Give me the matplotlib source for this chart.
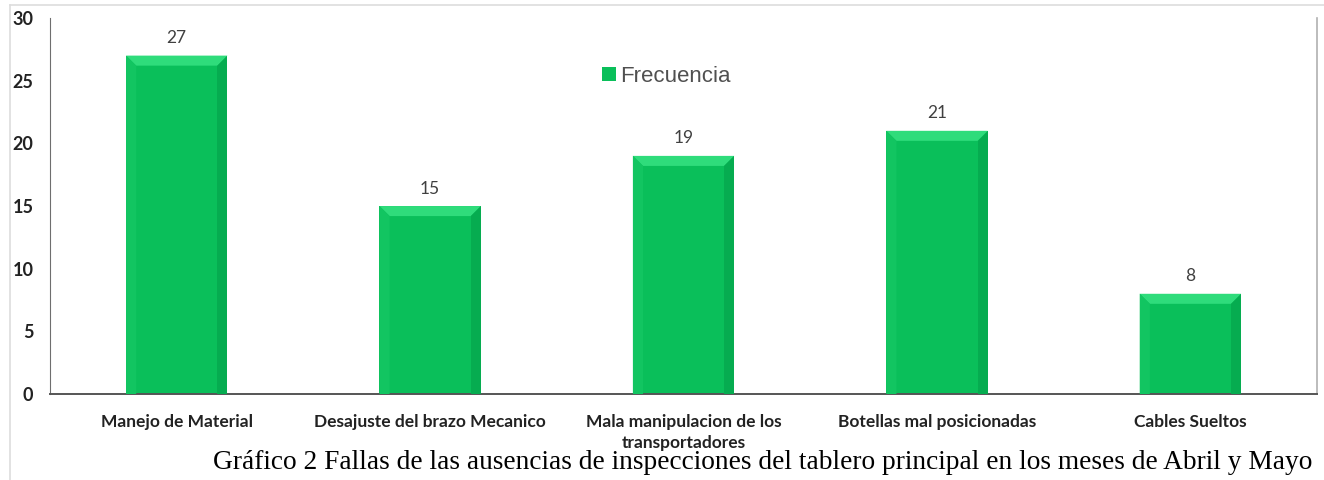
import numpy as np
import matplotlib.pyplot as plt
from matplotlib.patches import Polygon
from matplotlib.lines import Line2D

categorias = ['Manejo de Material', 'Desajuste del brazo Mecanico',
              'Mala manipulacion de los\ntransportadores', 'Botellas mal posicionadas',
              'Cables Sueltos']
frecuencia = [27, 15, 19, 21, 8]
yticks = [0, 5, 10, 15, 20, 25, 30]

verde = '#0abf5a'
fig = plt.figure(figsize=(13.24, 4.8), dpi=100)
ax = fig.add_axes([0.0378, 0.179, 0.957, 0.7835])

x = np.arange(len(categorias))
ancho = 0.4
barras = ax.bar(x, frecuencia, width=ancho, color=verde, zorder=2, label='Frecuencia')

# bevel look: lighter top strip, darker right strip
bx = 0.04
by = 0.8
for xi, v in zip(x, frecuencia):
    l, r = xi - ancho / 2, xi + ancho / 2
    ax.add_patch(Polygon([(l, v), (r, v), (r - bx, v - by), (l + bx, v - by)],
                         closed=True, color='#2fdc7b', lw=0, zorder=3))
    ax.add_patch(Polygon([(r, v), (r, 0), (r - bx, 0), (r - bx, v - by)],
                         closed=True, color='#06ac50', lw=0, zorder=3))
    ax.add_patch(Polygon([(l, v), (l + bx, v - by), (l + bx, 0), (l, 0)],
                         closed=True, color='#12c561', lw=0, zorder=3))
    ax.text(xi, v + 0.75, str(v), ha='center', va='bottom', fontsize=12.5,
            color='#404040', family='Lato')

ax.set_xlim(-0.5, 4.5)
ax.set_ylim(0, 30)
ax.set_yticks(yticks)
ax.set_xticks(x)
ax.set_xticklabels(categorias, fontsize=12.5, color='#222222', family='Lato',
                   fontweight='bold', linespacing=1.45)
for t in ax.get_yticklabels():
    t.set_fontsize(13)
    t.set_color('#222222')
    t.set_family('Lato')
    t.set_fontweight('bold')
ax.tick_params(axis='both', length=0)
ax.tick_params(axis='y', pad=12)
ax.tick_params(axis='x', pad=14)

ax.spines['top'].set_visible(False)
ax.spines['left'].set_color('#6e6e6e')
ax.spines['bottom'].set_color('#555555')
ax.spines['bottom'].set_linewidth(1.4)
ax.spines['right'].set_color('#b0b0b0')
ax.spines['right'].set_linewidth(1.2)

leg = ax.legend(loc='upper left', bbox_to_anchor=(0.42, 0.925), frameon=False,
                handlelength=0.6, handleheight=0.6, handletextpad=0.2,
                prop={'family': 'Liberation Sans', 'size': 16})
for t in leg.get_texts():
    t.set_color('#505050')

# outer chart border
fig.add_artist(Line2D([0.0076, 1.0], [0.99, 0.99], color='#dddddd', lw=1.2))
fig.add_artist(Line2D([0.0076, 0.0076], [0.0, 0.99], color='#dddddd', lw=1.2))

fig.text(0.161, 0.022,
         'Gráfico 2 Fallas de las ausencias de inspecciones del tablero principal en los meses de Abril y Mayo',
         family='Liberation Serif', fontsize=19.7, color='black', ha='left', va='baseline')

fig.savefig('out.png', dpi=100)
